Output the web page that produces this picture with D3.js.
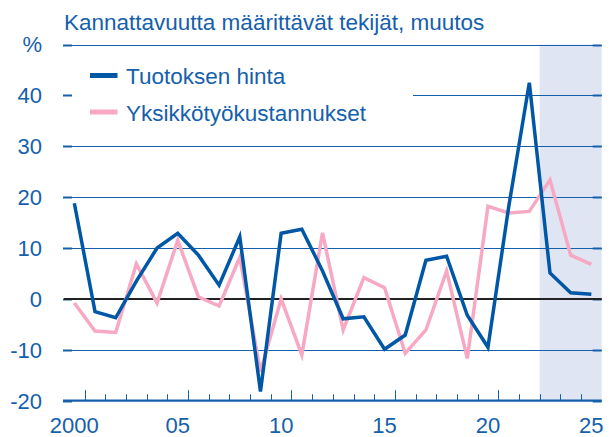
<!DOCTYPE html>
<meta charset="utf-8">
<style>

body {
  margin: 0;
  background: #fff;
}

text {
  font-family: "Liberation Sans", Arial, sans-serif;
  fill: #1560ab;
}

.grid {
  stroke: #1560ab;
  stroke-width: 1px;
}

.series {
  fill: none;
  stroke-width: 3.5px;
  stroke-linejoin: miter;
}

</style>
<svg width="614" height="437"></svg>
<script src="https://cdn.jsdelivr.net/npm/d3@7"></script>
<script>

var years = d3.range(2000, 2026);

var tuotoksenHinta = [18.8, -2.5, -3.7, 3.5, 10.0, 12.9, 8.6, 2.7, 12.2, -18.2,
  12.9, 13.7, 5.5, -3.9, -3.5, -9.9, -7.1, 7.6, 8.4, -3.2,
  -9.5, 18.0, 42.5, 5.1, 1.2, 0.9];

var yksikkotyokustannukset = [-0.8, -6.3, -6.6, 6.9, -0.8, 11.5, 0.4, -1.4, 8.2, -14.3,
  0.0, -11.0, 13.0, -6.1, 4.2, 2.2, -10.7, -6.1, 5.5, -11.7,
  18.2, 16.9, 17.2, 23.4, 8.6, 6.8];

var yTicks = [-20, -10, 0, 10, 20, 30, 40, 50];
var xLabels = [[2000, "2000"], [2005, "05"], [2010, "10"], [2015, "15"], [2020, "20"], [2025, "25"]];
var forecastStart = 2023;

var seriesNames = ["Tuotoksen hinta", "Yksikkötyökustannukset"];
var colors = ["#0057a6", "#f7a8c3"];

var svg = d3.select("svg");

var plotLeft = 64, plotRight = 601.7, plotTop = 44.5, plotBottom = 400.7;

var x = d3.scaleLinear().domain([1999.5, 2025.5]).range([plotLeft, plotRight]);
var y = d3.scaleLinear().domain([-20, 50]).range([plotBottom, plotTop]);

// forecast shading
svg.append("rect")
    .attr("x", x(forecastStart - 0.5))
    .attr("y", y(50))
    .attr("width", x(2025.5) - x(forecastStart - 0.5))
    .attr("height", y(-20) - y(50))
    .attr("fill", "#dfe5f3");

// grid lines
svg.selectAll(".grid")
  .data(yTicks.filter(function(d) { return d != 0 && d != -20; }))
  .enter().append("line")
    .attr("class", "grid")
    .attr("x1", plotLeft)
    .attr("x2", plotRight)
    .attr("y1", function(d) { return Math.round(y(d)) + 0.5; })
    .attr("y2", function(d) { return Math.round(y(d)) + 0.5; });

// legend background
svg.append("rect")
    .attr("x", plotLeft + 1)
    .attr("y", 52)
    .attr("width", 413 - plotLeft - 1)
    .attr("height", 76)
    .attr("fill", "#fff");

// y ticks on both sides
yTicks.forEach(function(d) {
  var yy = Math.round(y(d)) + 0.5;
  svg.append("line").attr("x1", plotLeft - 1).attr("x2", plotLeft + 8).attr("y1", yy).attr("y2", yy)
      .attr("stroke", "#1560ab").attr("stroke-width", 2);
  svg.append("line").attr("x1", plotRight - 9).attr("x2", plotRight).attr("y1", yy).attr("y2", yy)
      .attr("stroke", "#1560ab").attr("stroke-width", 2);
});

// y labels
svg.selectAll(".ylabel")
  .data(yTicks)
  .enter().append("text")
    .attr("class", "ylabel")
    .attr("x", 42)
    .attr("y", function(d) { return y(d); })
    .attr("dy", "0.36em")
    .attr("text-anchor", "end")
    .style("font-size", "22px")
    .text(function(d) { return d == 50 ? "%" : d; });

// zero line
svg.append("line")
    .attr("x1", plotLeft).attr("x2", plotRight)
    .attr("y1", y(0)).attr("y2", y(0))
    .attr("stroke", "#222").attr("stroke-width", 2);

// x axis
svg.append("line")
    .attr("x1", plotLeft - 1).attr("x2", plotRight)
    .attr("y1", y(-20)).attr("y2", y(-20))
    .attr("stroke", "#1560ab").attr("stroke-width", 2.2);

svg.selectAll(".xtick")
  .data(d3.range(2000, 2025))
  .enter().append("line")
    .attr("class", "xtick")
    .attr("x1", function(d) { return Math.round(x(d + 0.5)) + 0.5; })
    .attr("x2", function(d) { return Math.round(x(d + 0.5)) + 0.5; })
    .attr("y1", plotBottom)
    .attr("y2", function(d) { return d % 5 == 0 ? plotBottom - 10.5 : plotBottom - 6.5; })
    .attr("stroke", "#1560ab")
    .attr("stroke-width", 1);

svg.selectAll(".xlabel")
  .data(xLabels)
  .enter().append("text")
    .attr("class", "xlabel")
    .attr("x", function(d) { return x(d[0]); })
    .attr("y", 433)
    .attr("text-anchor", "middle")
    .style("font-size", "22px")
    .text(function(d) { return d[1]; });

// series
var line = d3.line()
    .x(function(d, i) { return x(years[i]); })
    .y(function(d) { return y(d); });

[yksikkotyokustannukset, tuotoksenHinta].forEach(function(s, k) {
  svg.append("path")
      .datum(s)
      .attr("class", "series")
      .attr("stroke", colors[1 - k])
      .attr("d", line);
});

// legend
seriesNames.forEach(function(name, i) {
  var ly = 75.5 + i * 36.5;
  svg.append("line")
      .attr("x1", 90).attr("x2", 117.5)
      .attr("y1", ly).attr("y2", ly)
      .attr("stroke", colors[i]).attr("stroke-width", 5);
  svg.append("text")
      .attr("x", 126)
      .attr("y", ly + 8.5)
      .style("font-size", "22.5px")
      .text(name);
});

// title
svg.append("text")
    .attr("x", 64)
    .attr("y", 30)
    .style("font-size", "22.5px")
    .text("Kannattavuutta määrittävät tekijät, muutos");

</script>
